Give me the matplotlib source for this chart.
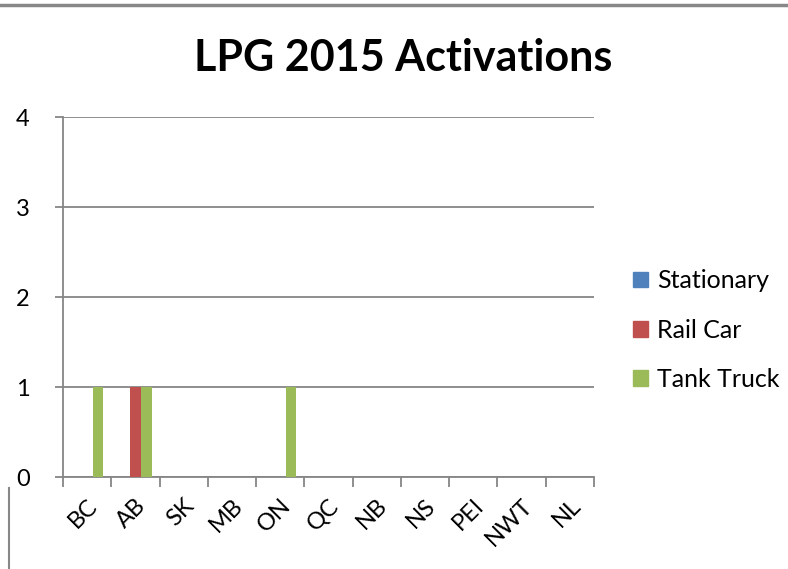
import matplotlib
matplotlib.use("Agg")
import matplotlib.pyplot as plt
import numpy as np
from matplotlib.lines import Line2D

categories = ["BC", "AB", "SK", "MB", "ON", "QC", "NB", "NS", "PEI", "NWT", "NL"]
series_names = ["Stationary", "Rail Car", "Tank Truck"]
stationary = [0, 0, 0, 0, 0, 0, 0, 0, 0, 0, 0]
rail_car = [0, 1, 0, 0, 0, 0, 0, 0, 0, 0, 0]
tank_truck = [1, 1, 0, 0, 1, 0, 0, 0, 0, 0, 0]
y_ticks = [0, 1, 2, 3, 4]
colors = ["#4F81BD", "#C0504D", "#9BBB59"]

plt.rcParams['font.family'] = ['Lato', 'DejaVu Sans']

fig = plt.figure(figsize=(7.88, 5.69), dpi=100)
ax = fig.add_axes([63/788, 1-477/569, (594-63)/788, (477-117)/569])

n = len(categories)
x = np.arange(n)
w = 1/4.5
for i, (vals, name, c) in enumerate(zip([stationary, rail_car, tank_truck], series_names, colors)):
    ax.bar(x + (i-1)*w, vals, width=w, color=c, label=name, zorder=3)

ax.set_xlim(-0.5, n-0.5)
ax.set_ylim(0, 4)
ax.set_yticks(y_ticks)
ax.set_yticklabels([str(v) for v in y_ticks], fontsize=17)
ax.yaxis.grid(True, color="#868686", linewidth=1.3, zorder=0)
gray = "#868686"
for s in ["top", "right"]:
    ax.spines[s].set_visible(False)
for s in ["left", "bottom"]:
    ax.spines[s].set_color(gray)
    ax.spines[s].set_linewidth(1.3)
ax.tick_params(axis='y', length=6, width=1.3, color=gray, pad=18)
ax.set_xticks(np.arange(n+1) - 0.5)
ax.set_xticklabels([])
ax.tick_params(axis='x', which='major', length=7, width=1.3, color=gray)
ax.set_xticks(x, minor=True)
ax.set_xticklabels(categories, minor=True, rotation=45, ha='right',
                   rotation_mode='anchor', fontsize=17)
ax.tick_params(axis='x', which='minor', length=0, pad=13)

fig.text(403/788, 1-58/569, "LPG 2015 Activations", ha='center', va='center',
         fontsize=31, fontweight='bold')

handles = [plt.Rectangle((0, 0), 1, 1, color=c) for c in colors]
leg = fig.legend(handles, series_names, loc='center left',
                 bbox_to_anchor=(633/788, 1-330/569), frameon=False,
                 borderpad=0, borderaxespad=0,
                 fontsize=18, handlelength=0.6, handleheight=0.6,
                 handletextpad=0.35, labelspacing=1.05)

fig.add_artist(Line2D([0, 1], [1-5/569, 1-5/569], color="#888888", linewidth=2.5))
fig.add_artist(Line2D([9/788, 9/788], [0, 1-488/569], color="#888888", linewidth=1.5))

fig.savefig("out.png", dpi=100)
